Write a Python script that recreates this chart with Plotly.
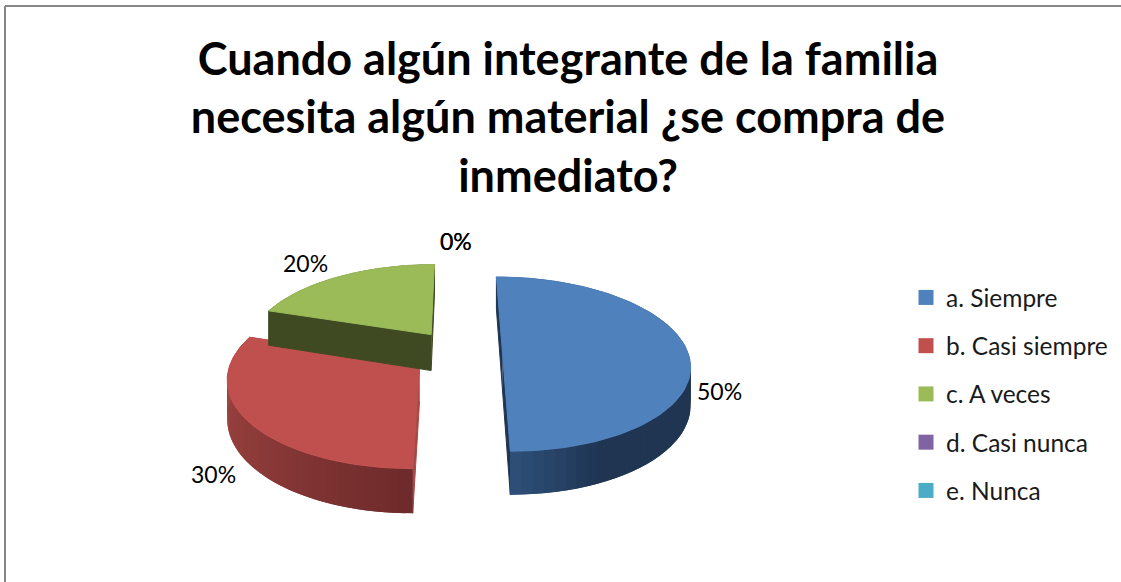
import numpy as np
import plotly.graph_objects as go

# ---- data ----
categories = ["a. Siempre", "b. Casi siempre", "c. A veces", "d. Casi nunca", "e. Nunca"]
values = [50, 30, 20, 0, 0]
title_lines = ["Cuando algún integrante de la familia",
               "necesita algún material ¿se compra de",
               "inmediato?"]

# ---- style ----
colors = ["#4F81BD", "#C0504D", "#9BBB59", "#8064A2", "#4BACC6"]
wall_stops = [
    [(0, "#1f3552"), (155, "#1f3552"), (180, "#30507a")],
    [(180, "#6e2b2b"), (225, "#8a3a38"), (288, "#a84a48")],
    [(288, "#3f4a22"), (360, "#3f4a22")],
]
radial_wall = ["#1f3552", "#a54a48", "#3f4a22", "#444444", "#444444"]
label_pos = [(719, 391), (213, 474), (305, 263), (456, 241), (456, 241)]

CX, CY, SX, SY, PERSP, EXPLODE, DEPTH = 457, 351, 185, 85.2, 0.15, 0.245, 37
FONT = "Lato, Carlito, Calibri, sans-serif"


def project(X, Y, down=0.0):
    w = 1 + PERSP * np.asarray(Y, dtype=float)
    return CX + SX * np.asarray(X) / w, CY - SY * np.asarray(Y) / w + down / w


def hex2rgb(h):
    return np.array([int(h[i:i + 2], 16) for i in (1, 3, 5)], dtype=float)


def wall_color(stops, a):
    xs = [s[0] for s in stops]
    rgb = np.array([hex2rgb(s[1]) for s in stops])
    c = [np.interp(a, xs, rgb[:, i]) for i in range(3)]
    return "rgb(%d,%d,%d)" % tuple(c)


def poly(xs, ys, color, name=None, edge=1):
    return go.Scatter(x=list(xs), y=list(ys), mode="lines", fill="toself", fillcolor=color,
                      line=dict(color=color, width=edge), showlegend=False,
                      hoverinfo="skip" if name is None else "text",
                      text=name, hoveron="fills" if name else None)


fig = go.Figure()
total = sum(values)
start = 0.0
for i, v in enumerate(values):
    sweep = 360.0 * v / total
    end = start + sweep
    if v > 0:
        mid = np.radians((start + end) / 2)
        ox, oy = EXPLODE * np.sin(mid), EXPLODE * np.cos(mid)
        th = np.radians(np.linspace(start, end, 90))
        X, Y = ox + np.sin(th), oy + np.cos(th)
        # radial walls
        for a in (start, end):
            ra = np.radians(a)
            ex, ey = ox + np.sin(ra), oy + np.cos(ra)
            x0, y0 = project([ox, ex], [oy, ey])
            x1, y1 = project([ex, ox], [ey, oy], DEPTH)
            fig.add_trace(poly(np.r_[x0, x1], np.r_[y0, y1], radial_wall[i]))
        # outer rim, shaded in overlapping bands so no seams show
        bands = np.linspace(start, end, 61)
        step = bands[1] - bands[0]
        for a0 in bands[:-1]:
            t = np.radians(np.linspace(a0, min(a0 + 2 * step, end), 5))
            bx, by = ox + np.sin(t), oy + np.cos(t)
            x0, y0 = project(bx, by)
            x1, y1 = project(bx[::-1], by[::-1], DEPTH)
            fig.add_trace(poly(np.r_[x0, x1], np.r_[y0, y1], wall_color(wall_stops[i], a0 + step / 2), edge=0))
        # top face
        tx, ty = project(np.r_[ox, X, ox], np.r_[oy, Y, oy])
        fig.add_trace(poly(tx, ty, colors[i], f"{categories[i]}: {v}%"))
    start = end

# legend entries
for i, c in enumerate(categories):
    fig.add_trace(go.Scatter(x=[None], y=[None], mode="markers", name=c, legendgroup=c,
                             marker=dict(symbol="square", size=15, color=colors[i])))

# data labels
for i, v in enumerate(values):
    fig.add_annotation(x=label_pos[i][0], y=label_pos[i][1], text=f"{v * 100 // total}%",
                       showarrow=False, xref="x", yref="y",
                       font=dict(family=FONT, size=23, color="#000000"))

fig.update_layout(
    width=1121, height=582, margin=dict(l=0, r=0, t=0, b=0),
    paper_bgcolor="white", plot_bgcolor="white",
    title=dict(text="<br>".join(title_lines), x=568 / 1121, xanchor="center", y=0.8712, yanchor="top",
               font=dict(family=FONT, size=45, color="#000000", weight="bold")),
    xaxis=dict(range=[0, 1121], visible=False, fixedrange=True),
    yaxis=dict(range=[582, 0], visible=False, fixedrange=True),
    legend=dict(x=906 / 1121, y=1 - 275 / 582, xanchor="left", yanchor="top", tracegroupgap=13.4,
                font=dict(family=FONT, size=24.5, color="#1a1a1a"), bgcolor="rgba(0,0,0,0)"),
    shapes=[
        dict(type="line", xref="paper", yref="paper", x0=5 / 1121, x1=5 / 1121, y0=0, y1=1 - 6 / 582,
             line=dict(color="#868686", width=2)),
        dict(type="line", xref="paper", yref="paper", x0=5 / 1121, x1=1, y0=1 - 6 / 582, y1=1 - 6 / 582,
             line=dict(color="#868686", width=2)),
    ],
)
fig.write_html("out.html", config={"displayModeBar": False},
               post_script="document.body.style.margin='0';document.documentElement.style.overflow='hidden';")
